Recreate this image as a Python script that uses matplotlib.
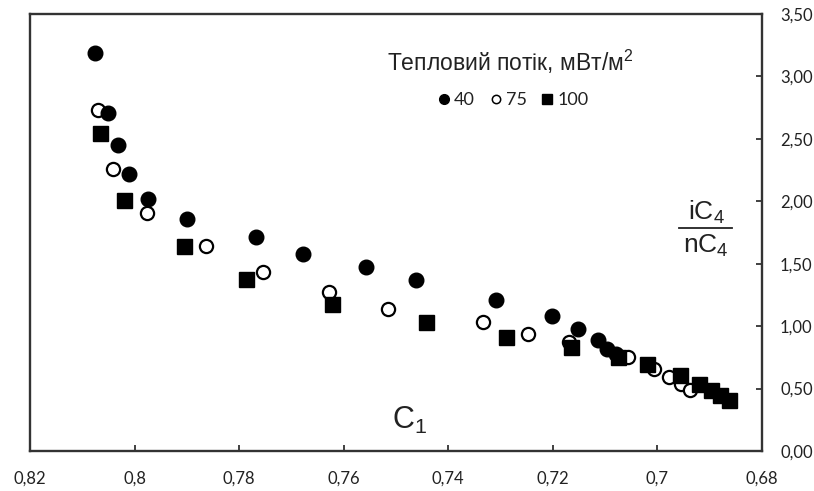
import matplotlib
matplotlib.use("Agg")
import matplotlib.pyplot as plt
from matplotlib.lines import Line2D
from matplotlib.ticker import FuncFormatter

plt.rcParams['mathtext.fontset'] = 'custom'
plt.rcParams['mathtext.rm'] = 'Liberation Sans'
plt.rcParams['mathtext.it'] = 'Liberation Sans'

# heat flux 40 mW/m2 (filled circles)
x40 = [0.8076, 0.8051, 0.8031, 0.8010, 0.7974, 0.7899, 0.7767, 0.7677, 0.7558,
       0.7462, 0.7308, 0.7202, 0.7151, 0.7114, 0.7096, 0.7080]
y40 = [3.19, 2.71, 2.45, 2.22, 2.02, 1.86, 1.71, 1.58, 1.47,
       1.37, 1.21, 1.08, 0.98, 0.89, 0.82, 0.78]

# 75 mW/m2 (open circles)
x75 = [0.8070, 0.8042, 0.7976, 0.7864, 0.7755, 0.7629, 0.7515, 0.7334, 0.7247,
       0.7170, 0.7056, 0.7007, 0.6978, 0.6954, 0.6938]
y75 = [2.73, 2.26, 1.91, 1.64, 1.43, 1.27, 1.14, 1.03, 0.94,
       0.87, 0.75, 0.66, 0.595, 0.54, 0.49]

# 100 mW/m2 (squares)
x100 = [0.8067, 0.8021, 0.7905, 0.7787, 0.7623, 0.7442, 0.7289, 0.7165, 0.7076,
        0.7020, 0.6957, 0.6920, 0.6897, 0.6881, 0.6864]
y100 = [2.55, 2.01, 1.64, 1.376, 1.18, 1.036, 0.916, 0.83, 0.756,
        0.70, 0.61, 0.54, 0.49, 0.45, 0.41]

xticks = [0.82, 0.80, 0.78, 0.76, 0.74, 0.72, 0.70, 0.68]
yticks = [0.0, 0.5, 1.0, 1.5, 2.0, 2.5, 3.0, 3.5]

fig = plt.figure(figsize=(8.14, 4.91), dpi=100)
ax = fig.add_axes([30/814, 1-451/491, 732/814, 437/491])

ax.plot(x75, y75, 'o', ms=9.5, mfc='white', mec='black', mew=1.6, ls='none', zorder=3)
ax.plot(x40, y40, 'o', ms=10.5, color='black', ls='none', zorder=4)
ax.plot(x100, y100, 's', ms=10.8, color='black', ls='none', zorder=5)

ax.set_xlim(0.82, 0.68)
ax.set_ylim(0, 3.5)
ax.set_xticks(xticks)
ax.set_yticks(yticks)
ax.xaxis.set_major_formatter(FuncFormatter(lambda v, p: ('%g' % round(v, 2)).replace('.', ',')))
ax.yaxis.set_major_formatter(FuncFormatter(lambda v, p: ('%.2f' % v).replace('.', ',')))
ax.yaxis.tick_right()
ax.tick_params(axis='both', direction='in', length=4, width=1.3, color='#333333',
               labelsize=12, labelcolor='#222222')
ax.tick_params(axis='y', pad=13)
ax.tick_params(axis='x', pad=14)
for lab in ax.get_xticklabels() + ax.get_yticklabels():
    lab.set_family('Lato')
for s in ax.spines.values():
    s.set_linewidth(1.7)
    s.set_color('#333333')

fig.text(510/814, 1-62/491, 'Тепловий потік, мВт/м$^2$', ha='center', va='center',
         fontsize=16.5, family='Liberation Sans', color='#222222')

handles = [Line2D([], [], ls='none', marker='o', ms=7, color='black'),
           Line2D([], [], ls='none', marker='o', ms=6, mfc='white', mec='black', mew=1.1),
           Line2D([], [], ls='none', marker='s', ms=7, color='black')]
leg = fig.legend(handles, ['40', '75', '100'], loc='center',
                 bbox_to_anchor=(513/814, 1-100/491), ncol=3, frameon=False,
                 handlelength=0.7, handletextpad=0.2, columnspacing=0.8,
                 prop={'family': 'Lato', 'size': 13})
for t in leg.get_texts():
    t.set_color('#222222')

fig.text(410/814, 1-420/491, r'$\mathrm{C}_1$', ha='center', va='center',
         fontsize=22, color='#222222')

# iC4 / nC4 label
fig.text(706/814, 1-212/491, r'$\mathrm{iC}_4$', ha='center', va='center',
         fontsize=19, color='#222222')
fig.text(706/814, 1-246/491, r'$\mathrm{nC}_4$', ha='center', va='center',
         fontsize=19, color='#222222')
fig.add_artist(Line2D([679/814, 732/814], [1-228/491, 1-228/491], color='#222222', lw=1.3))

fig.savefig('out.png', dpi=100)
